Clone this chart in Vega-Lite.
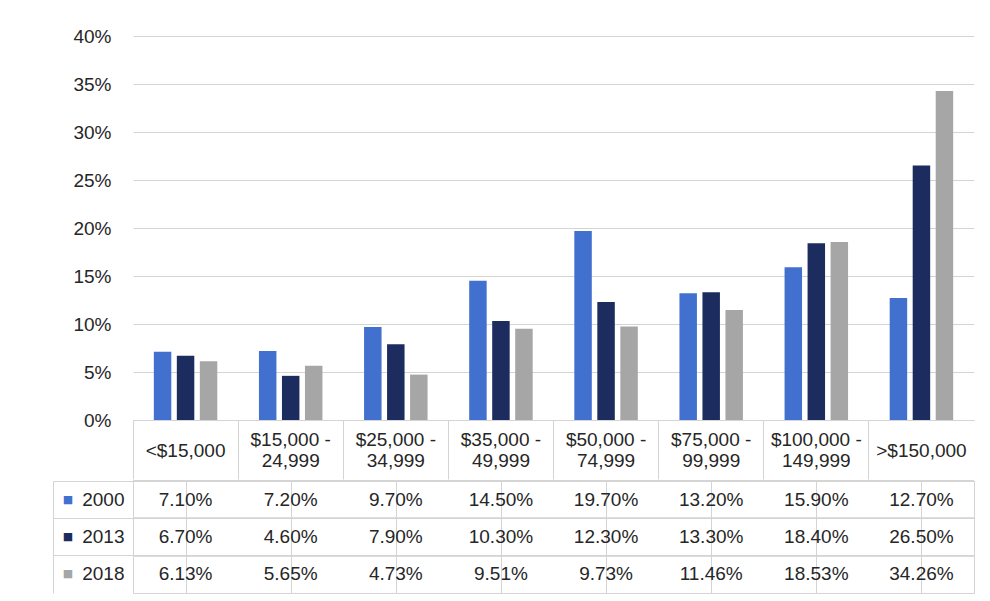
{
  "$schema": "https://vega.github.io/schema/vega-lite/v6.json",
  "padding": {"left": 52, "top": 27, "right": 17, "bottom": 9},
  "background": "white",
  "spacing": 0,
  "datasets": {
    "income": [
      {"bracket": "<$15,000", "year": "2000", "share": 0.071},
      {"bracket": "<$15,000", "year": "2013", "share": 0.067},
      {"bracket": "<$15,000", "year": "2018", "share": 0.0613},
      {"bracket": "$15,000 - 24,999", "year": "2000", "share": 0.072},
      {"bracket": "$15,000 - 24,999", "year": "2013", "share": 0.046},
      {"bracket": "$15,000 - 24,999", "year": "2018", "share": 0.0565},
      {"bracket": "$25,000 - 34,999", "year": "2000", "share": 0.097},
      {"bracket": "$25,000 - 34,999", "year": "2013", "share": 0.079},
      {"bracket": "$25,000 - 34,999", "year": "2018", "share": 0.0473},
      {"bracket": "$35,000 - 49,999", "year": "2000", "share": 0.145},
      {"bracket": "$35,000 - 49,999", "year": "2013", "share": 0.103},
      {"bracket": "$35,000 - 49,999", "year": "2018", "share": 0.0951},
      {"bracket": "$50,000 - 74,999", "year": "2000", "share": 0.197},
      {"bracket": "$50,000 - 74,999", "year": "2013", "share": 0.123},
      {"bracket": "$50,000 - 74,999", "year": "2018", "share": 0.0973},
      {"bracket": "$75,000 - 99,999", "year": "2000", "share": 0.132},
      {"bracket": "$75,000 - 99,999", "year": "2013", "share": 0.133},
      {"bracket": "$75,000 - 99,999", "year": "2018", "share": 0.1146},
      {"bracket": "$100,000 - 149,999", "year": "2000", "share": 0.159},
      {"bracket": "$100,000 - 149,999", "year": "2013", "share": 0.184},
      {"bracket": "$100,000 - 149,999", "year": "2018", "share": 0.1853},
      {"bracket": ">$150,000", "year": "2000", "share": 0.127},
      {"bracket": ">$150,000", "year": "2013", "share": 0.265},
      {"bracket": ">$150,000", "year": "2018", "share": 0.3426}
    ]
  },
  "resolve": {"scale": {"x": "independent", "y": "independent"}},
  "config": {
    "font": "Liberation Sans",
    "axis": {
      "labelFont": "Liberation Sans",
      "labelFontSize": 19,
      "labelColor": "#262626",
      "gridColor": "#d4d4d4",
      "domainColor": "#d4d4d4",
      "tickColor": "#d4d4d4",
      "title": null
    },
    "text": {"font": "Liberation Sans"}
  },
  "vconcat": [
    {
      "width": 841,
      "height": 384,
      "view": {"stroke": null},
      "data": {"name": "income"},
      "mark": {"type": "bar"},
      "encoding": {
        "x": {
          "field": "bracket",
          "type": "nominal",
          "sort": ["<$15,000", "$15,000 - 24,999", "$25,000 - 34,999", "$35,000 - 49,999", "$50,000 - 74,999", "$75,000 - 99,999", "$100,000 - 149,999", ">$150,000"],
          "scale": {"paddingInner": 0, "paddingOuter": 0},
          "axis": {
            "labelExpr": "indexof(datum.value, ' - ') > 0 ? [slice(datum.value, 0, indexof(datum.value, ' - ') + 2), slice(datum.value, indexof(datum.value, ' - ') + 3)] : datum.value",
            "bandPosition": 0,
            "tickSize": 59,
            "labelPadding": {"condition": {"test": "indexof(datum.value, ' - ') > 0", "value": -40}, "value": -29},
            "labelBaseline": "middle",
            "labelAngle": 0,
            "domain": true,
            "grid": false,
            "labelOverlap": false,
            "labelBound": false
          }
        },
        "xOffset": {
          "field": "year",
          "type": "nominal",
          "sort": ["2000", "2013", "2018"],
          "scale": {"paddingInner": 0.24, "paddingOuter": 0.905}
        },
        "y": {
          "field": "share",
          "type": "quantitative",
          "scale": {"domain": [0, 0.4], "nice": false},
          "axis": {
            "values": [0, 0.05, 0.1, 0.15, 0.2, 0.25, 0.3, 0.35, 0.4],
            "format": ".0%",
            "ticks": false,
            "domain": false,
            "labelPadding": 22,
            "grid": true
          }
        },
        "color": {
          "field": "year",
          "type": "nominal",
          "scale": {"domain": ["2000", "2013", "2018"], "range": ["#4170cf", "#1d2c5e", "#a6a6a6"]},
          "legend": null
        }
      }
    },
    {
      "width": 841,
      "height": 112,
      "view": {"stroke": "#d4d4d4"},
      "data": {"name": "income"},
      "resolve": {"axis": {"y": "independent"}},
      "layer": [
        {
          "mark": {"type": "text", "fontSize": 19, "color": "#262626"},
          "encoding": {
            "x": {
              "field": "bracket",
              "type": "nominal",
              "sort": ["<$15,000", "$15,000 - 24,999", "$25,000 - 34,999", "$35,000 - 49,999", "$50,000 - 74,999", "$75,000 - 99,999", "$100,000 - 149,999", ">$150,000"],
              "scale": {"paddingInner": 0, "paddingOuter": 0},
              "axis": {"labels": false, "ticks": false, "domain": false, "grid": true, "bandPosition": 0}
            },
            "y": {
              "field": "year",
              "type": "nominal",
              "sort": ["2000", "2013", "2018"],
              "scale": {"paddingInner": 0, "paddingOuter": 0},
              "axis": {"orient": "left", "bandPosition": 0, "ticks": true, "tickSize": 80, "tickColor": "#d4d4d4", "tickWidth": 1, "labelPadding": -71, "domain": false, "grid": true, "gridColor": "#d4d4d4", "gridWidth": 1}
            },
            "text": {"field": "share", "type": "quantitative", "format": ".2%"}
          }
        },
        {
          "mark": {"type": "rule", "color": "#d4d4d4", "strokeWidth": 1},
          "encoding": {
            "y": {
              "field": "year",
              "type": "nominal",
              "sort": ["2000", "2013", "2018"],
              "bandPosition": 0,
              "axis": null
            }
          }
        },
        {
          "mark": {"type": "text", "text": ""},
          "encoding": {
            "y": {
              "field": "year",
              "type": "nominal",
              "sort": ["2000", "2013", "2018"],
              "axis": {
                "orient": "left",
                "offset": 80,
                "labelExpr": "'■'",
                "labelFont": "DejaVu Sans",
                "labelFontSize": 11,
                "labelAlign": "center",
                "labelPadding": 65.5,
                "ticks": true,
                "tickSize": -80,
                "bandPosition": 0,
                "tickColor": "#d4d4d4",
                "domain": true,
                "grid": false,
                "labelColor": {
                  "condition": [
                    {"test": "datum.value === '2000'", "value": "#4170cf"},
                    {"test": "datum.value === '2013'", "value": "#1d2c5e"}
                  ],
                  "value": "#a6a6a6"
                }
              }
            }
          }
        }
      ]
    }
  ]
}
